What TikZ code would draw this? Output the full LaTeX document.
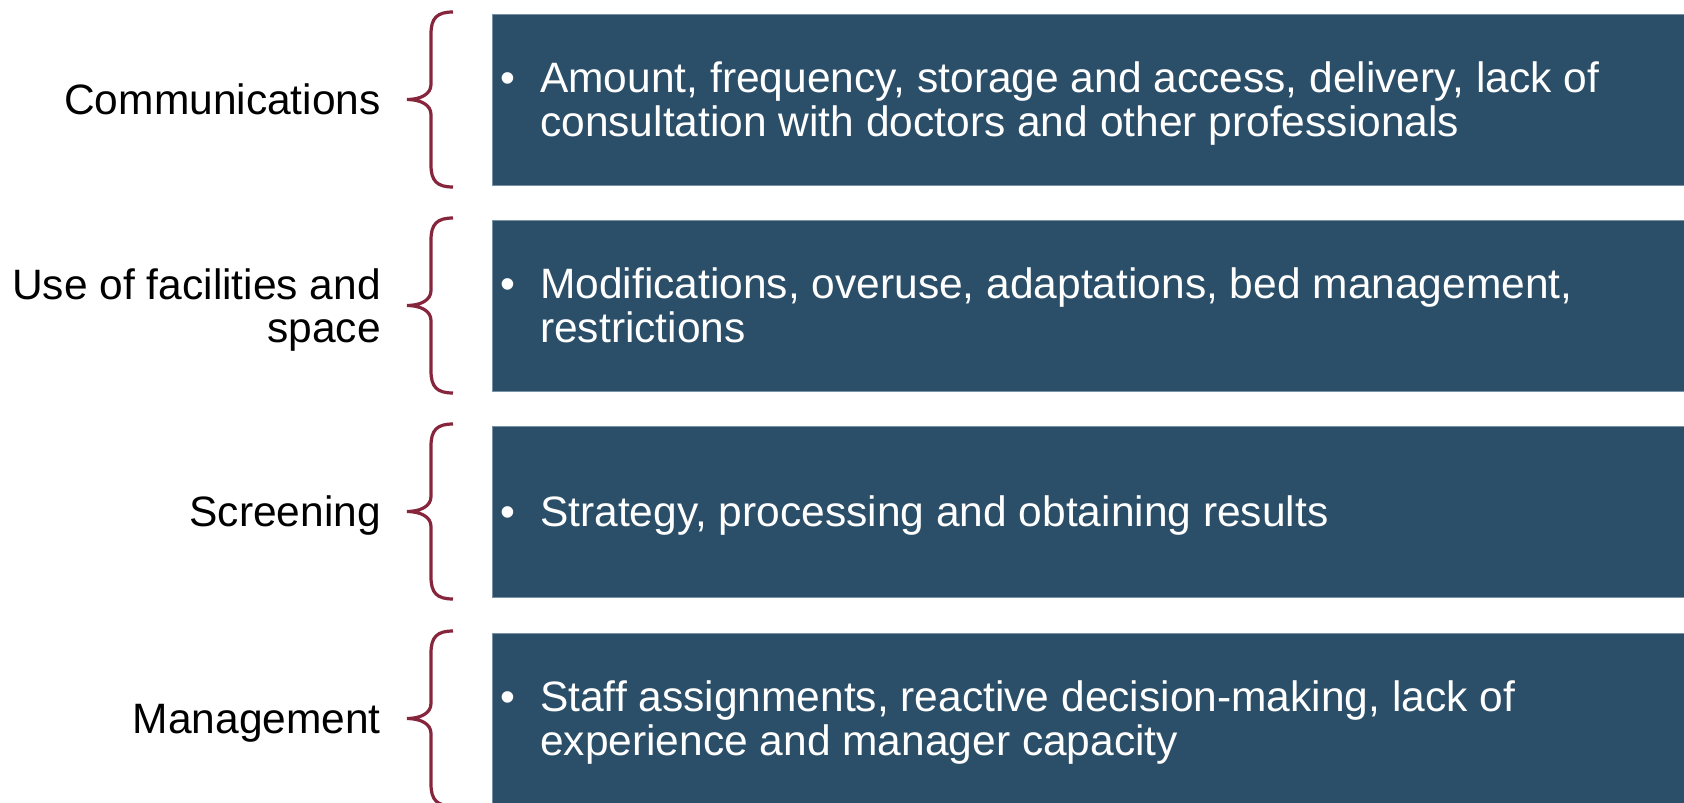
\documentclass[tikz,border=0pt]{standalone}
\usepackage{fontspec}
\setmainfont{Liberation Sans}
\definecolor{boxblue}{RGB}{44,79,105}
\definecolor{boxedge}{RGB}{120,145,165}
\definecolor{bracered}{RGB}{134,38,60}
\newcommand\mybrace[2]{%
  \draw[brace] (453,{#1-2}) .. controls (437,{#1-2}) and (431,{#1+4}) .. (431,{#1+20})
    -- (431,{(#1+#2)/2-15}) .. controls (431,{(#1+#2)/2-5}) and (420,{(#1+#2)/2}) .. (407,{(#1+#2)/2})
    .. controls (420,{(#1+#2)/2}) and (431,{(#1+#2)/2+5}) .. (431,{(#1+#2)/2+15})
    -- (431,{#2-20}) .. controls (431,{#2-4}) and (437,{#2+2}) .. (453,{#2+2});}
\begin{document}
\begin{tikzpicture}[x=1pt,y=-1pt,
  catbox/.style={fill=boxblue, draw=boxedge, line width=0.6pt, anchor=north west, minimum width=1192pt, inner sep=0pt},
  brace/.style={draw=bracered, line width=3.2pt},
  itemtext/.style={text=white, anchor=west, inner sep=0pt, font=\fontsize{42.5}{43.5}\selectfont},
  labeltext/.style={text=black, anchor=east, inner sep=0pt, font=\fontsize{42.5}{43.5}\selectfont}]
\useasboundingbox (0,0) rectangle (1684,803);
\fill[white] (0,0) rectangle (1684,803);
% boxes
\node[catbox, minimum height=171pt] (b1) at (492,14) {};
\node[catbox, minimum height=171pt] (b2) at (492,220) {};
\node[catbox, minimum height=171pt] (b3) at (492,426) {};
\node[catbox, minimum height=171pt] (b4) at (492,633) {};
% braces
\mybrace{14}{185}
\mybrace{220}{391}
\mybrace{426}{597}
\mybrace{633}{804}
% box texts
\node[itemtext] (t1) at ([xshift=8pt, yshift=-6pt]b1.west)
  {\begin{tabular}{@{}p{40pt}@{}l@{}}•&Amount, frequency, storage and access, delivery, lack of\\ &consultation with doctors and other professionals\end{tabular}};
\node[itemtext] (t2) at ([xshift=8pt, yshift=-6pt]b2.west)
  {\begin{tabular}{@{}p{40pt}@{}l@{}}•&Modifications, overuse, adaptations, bed management,\\ &restrictions\end{tabular}};
\node[itemtext] (t3) at ([xshift=8pt, yshift=-6pt]b3.west)
  {\begin{tabular}{@{}p{40pt}@{}l@{}}•&Strategy, processing and obtaining results\end{tabular}};
\node[itemtext] (t4) at ([xshift=8pt, yshift=-6pt]b4.west)
  {\begin{tabular}{@{}p{40pt}@{}l@{}}•&Staff assignments, reactive decision-making, lack of\\ &experience and manager capacity\end{tabular}};
% labels
\node[labeltext] (l1) at (381,106) {\begin{tabular}{@{}r@{}}Communications\end{tabular}};
\node[labeltext] (l2) at (381,312) {\begin{tabular}{@{}r@{}}Use of facilities and\\space\end{tabular}};
\node[labeltext] (l3) at (381,518) {\begin{tabular}{@{}r@{}}Screening\end{tabular}};
\node[labeltext] (l4) at (381,725) {\begin{tabular}{@{}r@{}}Management\end{tabular}};
\end{tikzpicture}
\end{document}
